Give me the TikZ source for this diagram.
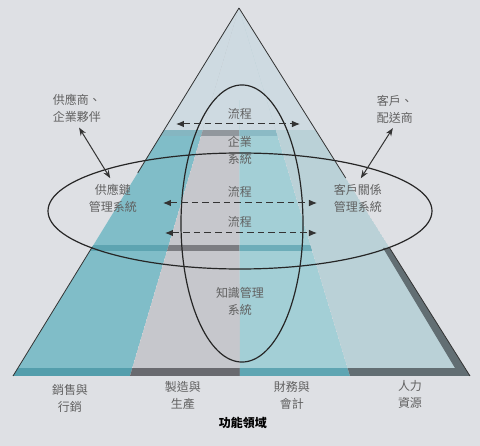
\documentclass[tikz,border=0pt]{standalone}
\usepackage{fontspec}
\setmainfont{Noto Sans CJK TC}
\usepackage{tikz}
\usetikzlibrary{
  arrows,
  arrows.meta,
  calc,
  positioning
}
\definecolor{paper}{RGB}{222,224,228}
\definecolor{topface}{RGB}{206,218,225}
\definecolor{tealA}{RGB}{128,189,200}
\definecolor{tealAdark}{RGB}{84,158,172}
\definecolor{grayB}{RGB}{198,199,204}
\definecolor{grayBdark}{RGB}{105,106,111}
\definecolor{tealC}{RGB}{163,207,214}
\definecolor{tealCdark}{RGB}{95,165,178}
\definecolor{grayD}{RGB}{186,209,215}
\definecolor{grayDdark}{RGB}{98,110,115}

\begin{document}
\begin{tikzpicture}[
      x=0.75pt,y=-0.75pt,
      label text/.style={
         text=black!62,
         font=\fontsize{9}{12.75}\selectfont,
         align=center,
         inner sep=1pt
      },
      side text/.style={
         label text,
         align=left
      },
      area text/.style={
         text=black,
         font=\fontsize{9}{12.75}\selectfont\bfseries,
         inner sep=1pt
      },
      ring/.style={
         draw=black!85,
         line width=0.9pt
      },
      flow/.style={
         {Latex[length=6pt,width=5pt]}-{Latex[length=6pt,width=5pt]},
         dash pattern=on 5pt off 3pt,
         draw=black!80,
         line width=0.75pt
      },
      link/.style={
         {Stealth[length=6pt,width=4.5pt]}-{Stealth[length=6pt,width=4.5pt]},
         draw=black!80,
         line width=0.75pt,
         shorten <=3pt,shorten >=4pt
      },
      edge line/.style={draw=black!80,line width=0.6pt}
    ]
    \useasboundingbox[fill=paper] (0,0) rectangle (480,446);
    % pyramid corners
    \coordinate (A) at (239,8);
    \coordinate (BL) at (13,376);
    \coordinate (BR) at (470,376);
    \coordinate (B1) at (130,376);
    \coordinate (B2) at (240,376);
    \coordinate (B3) at (350,376);
    % faces with their layer strips
    \foreach \p/\q/\c/\d in {BL/B1/tealA/tealAdark,B1/B2/grayB/grayBdark,B2/B3/tealC/tealCdark} {
      \begin{scope}
        \clip (A) -- (\p) -- (\q) -- cycle;
        \fill[\c] (A) -- (\p) -- (\q) -- cycle;
        \fill[topface] (0,0) rectangle (480,130);
        \fill[\d!60!topface] (0,130) rectangle (480,136);
        \fill[\d!80!\c] (0,245) rectangle (480,251);
        \fill[\d] (0,368) rectangle (480,377);
      \end{scope}
    }
    \begin{scope}
      \clip (A) -- (B3) -- (BR) -- cycle;
      \fill[grayD] (A) -- (B3) -- (BR) -- cycle;
      \fill[topface] (0,0) rectangle (480,130);
      \fill[grayDdark] (0,368) rectangle (480,377);
      \fill[grayDdark] (390,248) -- (470,376) -- (455,368) -- (383,248) -- cycle;
    \end{scope}
    % pyramid edges
    \draw[edge line] (A) -- ($(A)!0.448!(BL)$);
    \draw[edge line] ($(A)!0.649!(BL)$) -- (BL);
    \draw[edge line] (A) -- ($(A)!0.462!(BR)$);
    \draw[edge line] ($(A)!0.652!(BR)$) -- (BR);
    % the two systems
    \draw[ring] (240,211) ellipse [x radius=144pt, y radius=43.5pt];
    \draw[ring] (242,223.5) ellipse [x radius=45.75pt, y radius=103.9pt];
    % flows
    \coordinate (f1l) at (176,124);
    \coordinate (f1r) at (300,124);
    \coordinate (f2l) at (163,203);
    \coordinate (f2r) at (317,203);
    \coordinate (f3l) at (165,233);
    \coordinate (f3r) at (317,233);
    \draw[flow] (f1l) -- (f1r);
    \draw[flow] (f2l) -- (f2r);
    \draw[flow] (f3l) -- (f3r);
    \node[label text] (p1) at (240,114) {流程};
    \node[label text] (p2) at (240,192) {流程};
    \node[label text] (p3) at (240,222) {流程};
    \node[label text] (ent) at (240,150) {企業\\系統};
    \node[label text] (kms) at (240,301) {知識管理\\系統};
    \node[label text] (scm) at (113,198.5) {供應鏈\\管理系統};
    \node[label text] (crm) at (358,198.5) {客戶關係\\管理系統};
    \node[side text] (partner) at (77,108.5) {供應商、\\企業夥伴};
    \node[side text] (cust) at (395,109) {客戶、\\配送商};
    \draw[link] (partner.south) -- (scm.north);
    \draw[link] (cust.south) -- (crm.north);
    % functional areas
    \node[label text] (sales) at (70,398) {銷售與\\行銷};
    \node[label text] (mfg) at (183,395) {製造與\\生產};
    \node[label text] (fin) at (292,395) {財務與\\會計};
    \node[label text] (hr) at (410,394.5) {人力\\資源};
    \node[area text] (area) at (243,423) {功能領域};
\end{tikzpicture}
\end{document}
